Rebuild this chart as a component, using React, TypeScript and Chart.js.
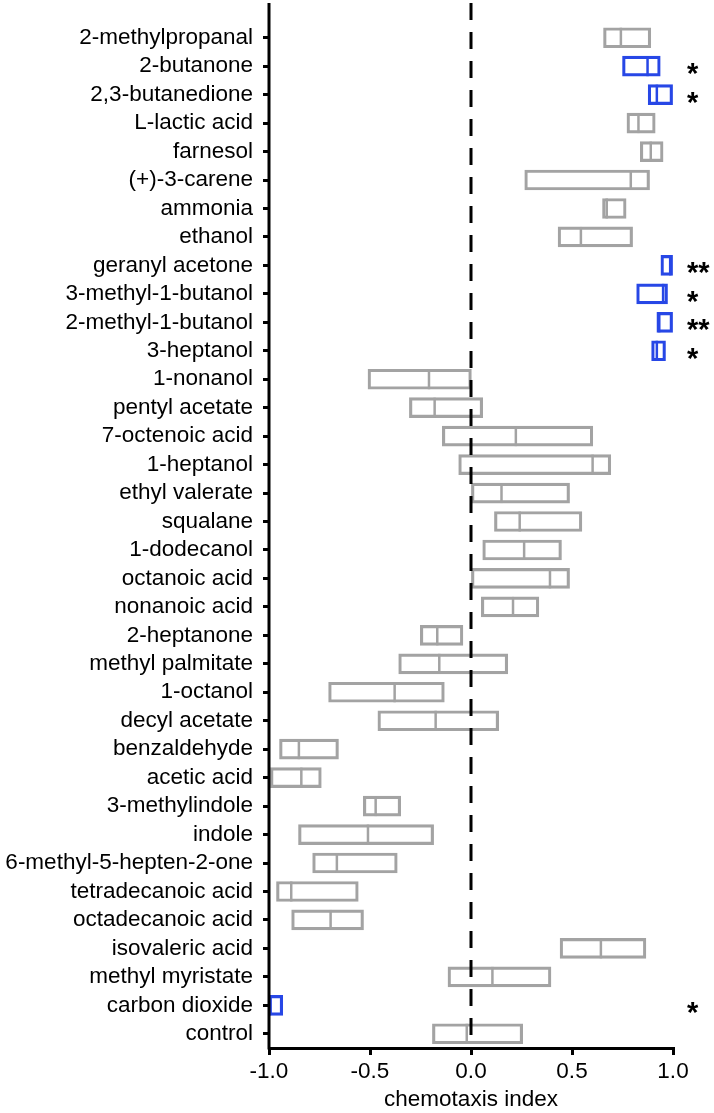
import React, { useEffect, useRef } from "react";
import { Chart, registerables } from "chart.js";

Chart.register(...registerables);

const categories: string[] = [
  "2-methylpropanal", "2-butanone", "2,3-butanedione", "L-lactic acid", "farnesol",
  "(+)-3-carene", "ammonia", "ethanol", "geranyl acetone", "3-methyl-1-butanol",
  "2-methyl-1-butanol", "3-heptanol", "1-nonanol", "pentyl acetate", "7-octenoic acid",
  "1-heptanol", "ethyl valerate", "squalane", "1-dodecanol", "octanoic acid",
  "nonanoic acid", "2-heptanone", "methyl palmitate", "1-octanol", "decyl acetate",
  "benzaldehyde", "acetic acid", "3-methylindole", "indole", "6-methyl-5-hepten-2-one",
  "tetradecanoic acid", "octadecanoic acid", "isovaleric acid", "methyl myristate",
  "carbon dioxide", "control",
];

const lowValues: number[] = [
  0.656, 0.75, 0.877, 0.772, 0.838,
  0.266, 0.651, 0.431, 0.94, 0.82,
  0.92, 0.894, -0.51, -0.305, -0.142,
  -0.061, 0.002, 0.116, 0.058, 0.002,
  0.051, -0.251, -0.358, -0.705, -0.461,
  -0.948, -0.993, -0.533, -0.854, -0.784,
  -0.963, -0.888, 0.441, -0.114,
  -1.0, -0.191,
];

const highValues: number[] = [
  0.89, 0.937, 0.998, 0.912, 0.951,
  0.884, 0.768, 0.8, 0.998, 0.973,
  0.998, 0.963, 0.002, 0.058, 0.603,
  0.692, 0.488, 0.549, 0.448, 0.488,
  0.336, -0.04, 0.182, -0.132, 0.137,
  -0.656, -0.741, -0.348, -0.185, -0.365,
  -0.558, -0.532, 0.866, 0.396,
  -0.932, 0.256,
];

const medianValues: number[] = [
  0.742, 0.874, 0.92, 0.829, 0.89,
  0.791, 0.672, 0.544, 0.986, 0.951,
  0.932, 0.92, -0.208, -0.18, 0.222,
  0.602, 0.151, 0.241, 0.263, 0.391,
  0.208, -0.167, -0.157, -0.378, -0.175,
  -0.852, -0.84, -0.472, -0.51, -0.664,
  -0.89, -0.695, 0.643, 0.106,
  -0.995, -0.021,
];

const significance: string[] = [
  "", "*", "*", "", "",
  "", "", "", "**", "*",
  "**", "*", "", "", "",
  "", "", "", "", "",
  "", "", "", "", "",
  "", "", "", "", "",
  "", "", "", "",
  "*", "",
];

const xTicks: number[] = [-1.0, -0.5, 0.0, 0.5, 1.0];

const GRAY = "#a3a3a3";
const BLUE = "#2747e6";
const FONT = "'Liberation Sans', Arial, Helvetica, sans-serif";
const FONT_SIZE = 22.5;
const BOX_H = 20;

const colorFor = (i: number) => (significance[i] ? BLUE : GRAY);

const overlayPlugin = {
  id: "overlay",
  afterDatasetsDraw(chart: any) {
    const { ctx, chartArea, scales } = chart;
    const xs = scales.x;
    const ys = scales.y;
    ctx.save();
    // median lines
    medianValues.forEach((m, i) => {
      const x = xs.getPixelForValue(m);
      const y = ys.getPixelForValue(i);
      ctx.strokeStyle = colorFor(i);
      ctx.lineWidth = 2.5;
      ctx.beginPath();
      ctx.moveTo(x, y - BOX_H / 2);
      ctx.lineTo(x, y + BOX_H / 2);
      ctx.stroke();
    });
    // dashed zero line
    const x0 = xs.getPixelForValue(0);
    ctx.strokeStyle = "#000";
    ctx.lineWidth = 3;
    ctx.setLineDash([17, 12]);
    ctx.beginPath();
    ctx.moveTo(x0, 3);
    ctx.lineTo(x0, chartArea.bottom);
    ctx.stroke();
    ctx.setLineDash([]);
    // y axis line
    ctx.beginPath();
    ctx.moveTo(chartArea.left, 3);
    ctx.lineTo(chartArea.left, chartArea.bottom + 1.5);
    ctx.stroke();
    // significance stars
    ctx.fillStyle = "#000";
    ctx.font = `bold 29px ${FONT}`;
    ctx.textAlign = "left";
    ctx.textBaseline = "alphabetic";
    significance.forEach((s, i) => {
      if (!s) return;
      const y = ys.getPixelForValue(i);
      ctx.fillText(s, chartArea.right + 14, y + 17);
    });
    ctx.restore();
  },
};

export default function App() {
  const ref = useRef<HTMLCanvasElement | null>(null);

  useEffect(() => {
    if (!ref.current) return;
    const chart = new Chart(ref.current, {
      type: "bar",
      data: {
        labels: categories,
        datasets: [
          {
            data: categories.map((_, i) => [lowValues[i], highValues[i]]) as any,
            backgroundColor: "rgba(255,255,255,0)",
            borderColor: categories.map((_, i) => colorFor(i)),
            borderWidth: 2.5,
            borderSkipped: false,
            barThickness: BOX_H,
          },
        ],
      },
      options: {
        indexAxis: "y",
        responsive: false,
        animation: false,
        devicePixelRatio: 1,
        layout: { padding: { top: 10, right: 41, left: 0, bottom: 0 } },
        plugins: { legend: { display: false }, tooltip: { enabled: false }, title: { display: false } },
        scales: {
          y: {
            type: "category",
            afterFit: (s: any) => {
              s.width = 269;
            },
            border: { display: false },
            grid: {
              display: true,
              offset: false,
              drawOnChartArea: false,
              drawTicks: true,
              tickLength: 6,
              lineWidth: 3,
              color: "#000",
            },
            ticks: {
              autoSkip: false,
              color: "#000",
              padding: 10,
              font: { family: FONT, size: FONT_SIZE },
            },
          },
          x: {
            type: "linear",
            min: -1,
            max: 1,
            afterFit: (s: any) => {
              s.height = 65;
            },
            afterBuildTicks: (s: any) => {
              s.ticks = xTicks.map((v) => ({ value: v }));
            },
            border: { display: true, color: "#000", width: 3 },
            grid: {
              display: true,
              drawOnChartArea: false,
              drawTicks: true,
              tickLength: 7,
              lineWidth: 3,
              color: "#000",
            },
            ticks: {
              autoSkip: false,
              color: "#000",
              padding: 3,
              maxRotation: 0,
              font: { family: FONT, size: FONT_SIZE },
              callback: (v: any) => Number(v).toFixed(1),
            },
            title: {
              display: true,
              text: "chemotaxis index",
              color: "#000",
              padding: { top: 0, bottom: 0 },
              font: { family: FONT, size: FONT_SIZE },
            },
          },
        },
      },
      plugins: [overlayPlugin],
    });
    return () => chart.destroy();
  }, []);

  return (
    <div style={{ position: "absolute", left: 0, top: 0, width: 714, height: 1113, background: "#fff" }}>
      <canvas ref={ref} width={714} height={1113} style={{ display: "block" }} />
    </div>
  );
}
